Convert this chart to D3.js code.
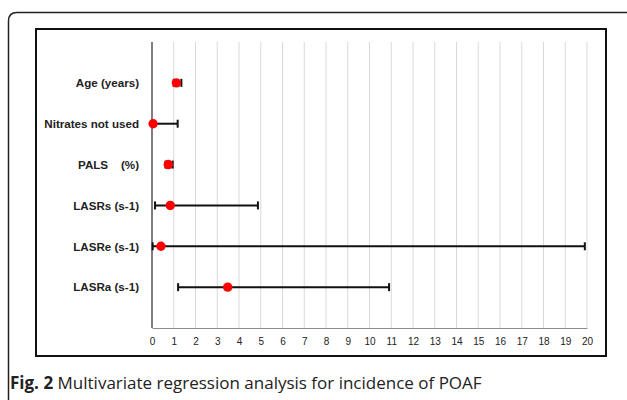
<!DOCTYPE html>
<html><head><meta charset="utf-8">
<script src="https://cdn.jsdelivr.net/npm/d3@7"></script>
<style>body{margin:0;background:#fff}svg{display:block}</style>
</head><body>
<script>
const categories = ["Age (years)", "Nitrates not used", "PALS    (%)", "LASRs (s-1)", "LASRe (s-1)", "LASRa (s-1)"];
const oddsRatio = [1.12, 0.05, 0.75, 0.84, 0.41, 3.48];
const ciLower   = [1.0, 0.02, 0.62, 0.14, 0.03, 1.2];
const ciUpper   = [1.35, 1.18, 0.95, 4.87, 19.9, 10.9];
const xTicks = d3.range(0, 21);
const captionBold = "Fig. 2";
const captionText = " Multivariate regression analysis for incidence of POAF";

const W = 627, H = 400;
const svg = d3.select("body").append("svg").attr("width", W).attr("height", H);

// outer rounded frame
svg.append("path")
  .attr("d", "M8.5,410 L8.5,21 Q8.5,12.5 17,12.5 L640,12.5")
  .attr("fill", "none").attr("stroke", "#222").attr("stroke-width", 1.5);

// inner chart box
svg.append("rect").attr("x", 36).attr("y", 29).attr("width", 570).attr("height", 327)
  .attr("fill", "none").attr("stroke", "#111").attr("stroke-width", 2);

const x = d3.scaleLinear().domain([0, 20]).range([152, 587]);
const y = d3.scalePoint().domain(categories).range([42, 328]).padding(1);

// gridlines
svg.append("g").selectAll("line").data(xTicks.filter(d => d > 0)).join("line")
  .attr("x1", d => x(d)).attr("x2", d => x(d)).attr("y1", 42).attr("y2", 328)
  .attr("stroke", "#d9d9d9").attr("stroke-width", 1);

// x axis
const xAxis = d3.axisBottom(x).tickValues(xTicks).tickSize(0).tickPadding(10);
const gx = svg.append("g").attr("transform", "translate(0,328)").call(xAxis);
gx.select(".domain").attr("stroke", "#8c8c8c").attr("stroke-width", 1);
gx.selectAll("text").attr("font-family", "Liberation Sans, Arial, sans-serif")
  .attr("font-size", 10).attr("fill", "#222");

// y axis line
svg.append("line").attr("x1", 152).attr("x2", 152).attr("y1", 42).attr("y2", 328)
  .attr("stroke", "#555").attr("stroke-width", 1.5);

// category labels
const yAxis = d3.axisLeft(y).tickSize(0).tickPadding(13);
const gy = svg.append("g").attr("transform", "translate(152,0)").call(yAxis);
gy.select(".domain").remove();
gy.selectAll("text").attr("font-family", "Liberation Sans, Arial, sans-serif")
  .attr("font-size", 11.6).attr("font-weight", "bold").attr("fill", "#222")
  .style("white-space", "pre").attr("xml:space", "preserve");

// CI lines
const rows = categories.map((c, i) => ({c, or: oddsRatio[i], lo: ciLower[i], hi: ciUpper[i]}));
const g = svg.append("g");
g.selectAll("line.ci").data(rows).join("line").attr("class", "ci")
  .attr("x1", d => x(d.lo)).attr("x2", d => x(d.hi))
  .attr("y1", d => y(d.c)).attr("y2", d => y(d.c))
  .attr("stroke", "#111").attr("stroke-width", 2);
["lo", "hi"].forEach(k => {
  g.selectAll("line.cap" + k).data(rows).join("line").attr("class", "cap" + k)
    .attr("x1", d => x(d[k])).attr("x2", d => x(d[k]))
    .attr("y1", d => y(d.c) - 4).attr("y2", d => y(d.c) + 4)
    .attr("stroke", "#111").attr("stroke-width", 2);
});
g.selectAll("circle").data(rows).join("circle")
  .attr("cx", d => x(d.or)).attr("cy", d => y(d.c)).attr("r", 4.7)
  .attr("fill", "#ff0000");

// caption
const cap = svg.append("text").attr("x", 10).attr("y", 389)
  .attr("font-family", "Open Sans, sans-serif").attr("font-size", 17).attr("fill", "#222");
cap.append("tspan").attr("font-weight", "bold").text(captionBold);
cap.append("tspan").text(captionText);
</script>
</body></html>
